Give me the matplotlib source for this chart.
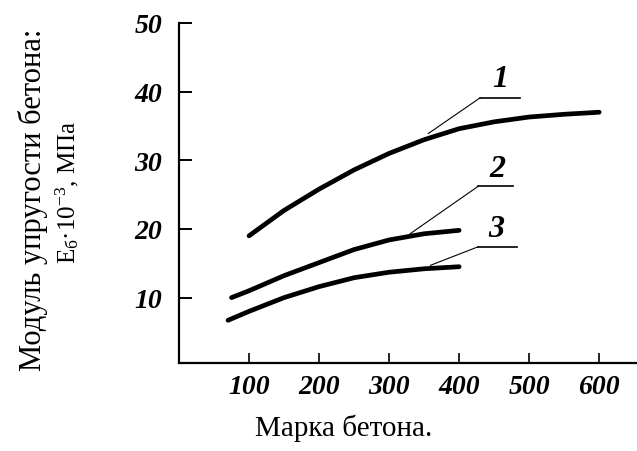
import matplotlib
matplotlib.use('Agg')
import matplotlib.pyplot as plt

plt.rcParams['font.family'] = ['Liberation Serif', 'DejaVu Serif']
plt.rcParams['mathtext.fontset'] = 'custom'
plt.rcParams['mathtext.rm'] = 'Liberation Serif'
plt.rcParams['mathtext.it'] = 'Liberation Serif:italic'

# ---------------------------------------------------------------------------
# Data
# ---------------------------------------------------------------------------
grade_1 = [100, 150, 200, 250, 300, 350, 400, 450, 500, 550, 600]
modulus_1 = [19.0, 22.7, 25.8, 28.6, 31.0, 33.0, 34.6, 35.6, 36.3, 36.7, 37.0]

grade_2 = [75, 100, 150, 200, 250, 300, 350, 400]
modulus_2 = [10.0, 11.0, 13.2, 15.1, 17.0, 18.4, 19.3, 19.8]

grade_3 = [70, 100, 150, 200, 250, 300, 350, 400]
modulus_3 = [6.7, 8.0, 10.0, 11.6, 12.9, 13.7, 14.2, 14.5]

curve_labels = ['1', '2', '3']
# leader: point on curve -> start of underline, underline end, text position
leader_curve = [(356, 33.9), (330, 19.3), (359, 14.7)]
leader_knee = [(430, 39.1), (427, 26.2), (427, 17.4)]
leader_end = [487, 477, 483]
label_pos = [(459, 41.9), (454, 28.8), (453, 20.0)]

x_ticks = [100, 200, 300, 400, 500, 600]
y_ticks = [10, 20, 30, 40, 50]

# ---------------------------------------------------------------------------
fig = plt.figure(figsize=(6.37, 4.52), dpi=100)
ax = fig.add_axes([0.281, 0.195, 0.719, 0.752])

for gx, my in [(grade_1, modulus_1), (grade_2, modulus_2), (grade_3, modulus_3)]:
    ax.plot(gx, my, color='black', lw=3.4, solid_capstyle='round')

for lab, cp, kp, ex, tp in zip(curve_labels, leader_curve, leader_knee,
                               leader_end, label_pos):
    ax.plot([cp[0], kp[0]], [cp[1], kp[1]], color='black', lw=0.8)
    ax.plot([kp[0], ex], [kp[1], kp[1]], color='black', lw=1.2)
    ax.text(tp[0], tp[1], lab, ha='center', va='center', fontsize=23,
            style='italic', weight='bold')

ax.set_xlim(0, 654)
ax.set_ylim(0.5, 50)
ax.spines['top'].set_visible(False)
ax.spines['right'].set_visible(False)
ax.spines['left'].set_linewidth(1.6)
ax.spines['bottom'].set_linewidth(1.6)

ax.set_xticks(x_ticks)
ax.set_yticks(y_ticks)
ax.tick_params(axis='y', direction='in', length=9, width=1.4, pad=12,
               labelsize=20)
ax.tick_params(axis='x', direction='in', length=7, width=1.2, pad=8,
               labelsize=20)
for t in ax.get_xticklabels() + ax.get_yticklabels():
    t.set_style('italic')
    t.set_weight('bold')

fig.text(0.539, 0.053, 'Марка бетона.', ha='center', va='center', fontsize=21)
fig.text(0.052, 0.558, 'Модуль упругости бетона:', rotation=90,
         ha='center', va='center', fontsize=22)
fig.text(0.106, 0.575, r'E$_{\mathrm{б}}$·10$^{\mathrm{-3}}$, МПа', rotation=90,
         ha='center', va='center', fontsize=18)

fig.savefig('out.png', dpi=100)
